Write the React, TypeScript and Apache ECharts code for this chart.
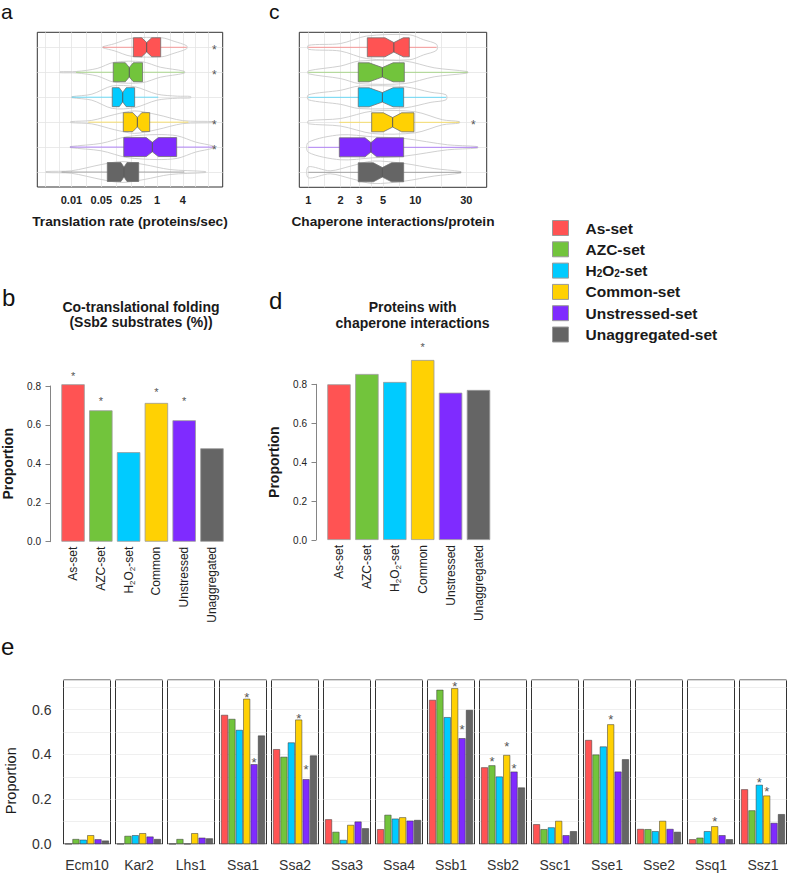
import React, { useEffect, useRef } from 'react';
import * as echarts from 'echarts';

const FONT = '"Liberation Sans", Arial, Helvetica, sans-serif';

const SETS = ['As-set', 'AZC-set', 'H2O2-set', 'Common-set', 'Unstressed-set', 'Unaggregated-set'];
const COLORS = ['#FF5353', '#72C43C', '#00CBFF', '#FFD103', '#7F2BFF', '#656565'];

// ---------- Panel a: translation rate (proteins/sec) ----------
const aTickValues = [0.01, 0.05, 0.25, 1, 4];
const aTickLabels = ['0.01', '0.05', '0.25', '1', '4'];
const aGridValues = [0.0024, 0.0051, 0.01, 0.0224, 0.05, 0.112, 0.25, 0.5, 1, 2, 4, 8, 16];
// [whiskerLow, q1, notchLow, median, notchHigh, q3, whiskerHigh]
const aBoxes = [
  [0.054, 0.28, 0.439, 0.574, 0.752, 1.22, 4.94],
  [0.0128, 0.095, 0.182, 0.225, 0.28, 0.46, 4.35],
  [0.0102, 0.09, 0.131, 0.158, 0.191, 0.3, 1.07],
  [0.0248, 0.163, 0.272, 0.347, 0.441, 0.675, 5.4],
  [0.0093, 0.167, 0.562, 0.777, 1.072, 2.88, 20.7],
  [0.0059, 0.069, 0.144, 0.169, 0.199, 0.373, 4.35],
];
// violin outline: [value, half width in row units]
const aViolins = [
  [[0.054, 0.02], [0.1, 0.14], [0.25, 0.36], [1.3, 0.38], [2.5, 0.24], [4.94, 0.06]],
  [[0.0054, 0.02], [0.013, 0.03], [0.04, 0.15], [0.1, 0.4], [0.45, 0.42], [1.2, 0.2], [4.35, 0.04]],
  [[0.0102, 0.02], [0.03, 0.12], [0.09, 0.45], [0.3, 0.42], [1, 0.12], [3, 0.04], [6.1, 0.03]],
  [[0.0096, 0.02], [0.03, 0.07], [0.1, 0.3], [0.3, 0.45], [1, 0.3], [4, 0.06], [22.6, 0.02]],
  [[0.0093, 0.02], [0.05, 0.15], [0.2, 0.42], [1, 0.5], [3, 0.45], [8, 0.2], [20.7, 0.04]],
  [[0.00255, 0.02], [0.01, 0.05], [0.05, 0.3], [0.15, 0.42], [0.5, 0.3], [2, 0.1], [13.7, 0.02]],
];
const aStarRows = [1, 2, 4, 5];
const aStarX = 21.8;

// ---------- Panel c: chaperone interactions/protein ----------
const cTickValues = [1, 2, 3, 5, 10, 30];
const cTickLabels = ['1', '2', '3', '5', '10', '30'];
const cGridValues = [1, 1.414, 2, 2.449, 3, 3.873, 5, 7.071, 10, 17.32, 30];
const cBoxes = [
  [1, 3.56, 5.21, 6.3, 7.72, 8.79, 15.8],
  [1, 2.93, 3.7, 4.92, 6.2, 7.89, 30.8],
  [1, 2.93, 3.7, 4.92, 6.2, 7.78, 19.4],
  [1.95, 3.91, 5.02, 6.14, 7.45, 9.72, 25.8],
  [1, 1.95, 3.39, 3.85, 4.35, 7.78, 38.2],
  [1, 2.93, 4.05, 4.92, 6.01, 7.78, 26.7],
];
const cViolins = [
  [[1, 0.08], [2, 0.15], [3.5, 0.45], [8.8, 0.5], [12, 0.3], [15.8, 0.12]],
  [[1, 0.06], [2, 0.25], [3, 0.45], [8, 0.45], [15, 0.18], [30.8, 0.03]],
  [[1, 0.1], [2, 0.28], [3, 0.45], [8, 0.42], [14, 0.2], [19.4, 0.1]],
  [[1, 0.06], [2, 0.15], [4, 0.45], [10, 0.42], [18, 0.1], [25.8, 0.03]],
  [[1, 0.2], [2, 0.5], [4, 0.42], [8, 0.35], [20, 0.1], [38.2, 0.03]],
  [[1, 0.22], [1.6, 0.06], [2.5, 0.25], [4, 0.45], [8, 0.35], [15, 0.15], [26.7, 0.03]],
];
const cStarRows = [4];
const cStarX = 34.8;

// ---------- Panels b and d ----------
const bdCategories = ['As-set', 'AZC-set', 'H2O2-set', 'Common', 'Unstressed', 'Unaggregated'];
const bValues = [0.809, 0.675, 0.46, 0.713, 0.624, 0.48];
const bStarY = [0.866, 0.734, null, 0.78, 0.734, null];
const dValues = [0.8, 0.853, 0.812, 0.925, 0.757, 0.771];
const dStarY = [null, null, null, 1.007, null, null];

// ---------- Panel e ----------
const eGenes = ['Ecm10', 'Kar2', 'Lhs1', 'Ssa1', 'Ssa2', 'Ssa3', 'Ssa4', 'Ssb1', 'Ssb2', 'Ssc1', 'Sse1', 'Sse2', 'Ssq1', 'Ssz1'];
const eAs = [0, 0, 0, 0.576, 0.423, 0.11, 0.066, 0.643, 0.342, 0.088, 0.464, 0.067, 0.021, 0.244];
const eAZC = [0.022, 0.036, 0.022, 0.558, 0.389, 0.054, 0.13, 0.688, 0.351, 0.066, 0.399, 0.066, 0.028, 0.15];
const eH2O2 = [0.019, 0.039, 0, 0.509, 0.453, 0.018, 0.113, 0.566, 0.301, 0.074, 0.435, 0.057, 0.057, 0.264];
const eCommon = [0.039, 0.048, 0.048, 0.648, 0.555, 0.085, 0.119, 0.695, 0.397, 0.103, 0.534, 0.103, 0.079, 0.216];
const eUnstressed = [0.021, 0.033, 0.028, 0.356, 0.289, 0.1, 0.104, 0.472, 0.323, 0.039, 0.323, 0.067, 0.039, 0.094];
const eUnaggregated = [0.015, 0.022, 0.025, 0.484, 0.395, 0.07, 0.107, 0.598, 0.252, 0.057, 0.378, 0.054, 0.021, 0.133];
// [gene index, set index, star height]
const eStars = [
  [3, 3, 0.668], [3, 4, 0.378],
  [4, 3, 0.575], [4, 4, 0.348],
  [7, 3, 0.715], [7, 4, 0.524],
  [8, 1, 0.383], [8, 3, 0.45], [8, 4, 0.35],
  [10, 3, 0.569],
  [12, 3, 0.112],
  [13, 2, 0.29], [13, 3, 0.249],
];

const E_BAR_W = 6.9;
const E_GAP = 0.07;
const L10 = Math.log10;

const subFmt = (s: string) => s.replace('H2O2', 'H{sub|2}O{sub|2}');

function boxRenderer(violins: number[][][]) {
  return (params: any, api: any) => {
    const i = params.dataIndex;
    const row = api.value(0);
    const wlo = api.value(1), q1 = api.value(2), nlo = api.value(3), med = api.value(4);
    const nhi = api.value(5), q3 = api.value(6), whi = api.value(7);
    const cy = api.coord([0, row])[1];
    const unit = Math.abs(api.coord([0, 2])[1] - api.coord([0, 1])[1]);
    const X = (x: number) => api.coord([x, row])[0];
    const hb = 0.38 * unit;
    const hn = hb * 0.5;
    const prof = violins[i];
    const top = prof.map(([x, w]) => [X(L10(x)), cy - w * unit]);
    const bot = prof.slice().reverse().map(([x, w]) => [X(L10(x)), cy + w * unit]);
    const col = COLORS[i];
    const box = [
      [X(q1), cy - hb], [X(nlo), cy - hb], [X(med), cy - hn], [X(nhi), cy - hb], [X(q3), cy - hb],
      [X(q3), cy + hb], [X(nhi), cy + hb], [X(med), cy + hn], [X(nlo), cy + hb], [X(q1), cy + hb],
    ];
    return {
      type: 'group',
      children: [
        { type: 'polygon', shape: { points: top.concat(bot), smooth: 0.3 }, style: { fill: 'none', stroke: '#CBCBCB', lineWidth: 0.9 } },
        { type: 'line', shape: { x1: X(wlo), y1: cy, x2: X(whi), y2: cy }, style: { stroke: col, lineWidth: 1, opacity: 0.55 } },
        { type: 'polygon', shape: { points: box }, style: { fill: col, stroke: '#707070', lineWidth: 0.8 } },
        { type: 'line', shape: { x1: X(med), y1: cy - hn, x2: X(med), y2: cy + hn }, style: { stroke: '#5A5A5A', lineWidth: 1 } },
      ],
    };
  };
}

function starText(x: number, y: number, size: number) {
  return {
    type: 'text', x, y: y + size * 0.23,
    style: { text: '*', fill: '#555', fontSize: size, fontFamily: FONT, align: 'center', verticalAlign: 'middle' },
  };
}

function simpleStarRenderer(size: number) {
  return (params: any, api: any) => {
    const p = api.coord([api.value(0), api.value(1)]);
    return starText(p[0], p[1], size);
  };
}

function logXAxis(gi: number, min: number, max: number, ticks: number[], labels: string[], gridVals: number[], name: string) {
  const logTicks = ticks.map(L10);
  return {
    gridIndex: gi, type: 'value', min, max,
    axisLine: { show: false },
    axisTick: { show: false, customValues: gridVals.map(L10) },
    splitLine: { show: true, lineStyle: { color: '#E4E4E4', width: 0.8 } },
    axisLabel: {
      customValues: logTicks,
      formatter: (v: number) => {
        const k = logTicks.findIndex((t) => Math.abs(t - v) < 1e-6);
        return k >= 0 ? labels[k] : '';
      },
      fontSize: 11, fontWeight: 'bold', color: '#222', margin: 7, fontFamily: FONT,
    },
    name, nameLocation: 'middle', nameGap: 27,
    nameTextStyle: { fontSize: 13.7, fontWeight: 'bold', color: '#1a1a1a', fontFamily: FONT },
  };
}

function rowYAxis(gi: number) {
  return {
    gridIndex: gi, type: 'value', min: 0.4, max: 6.6, inverse: true,
    axisLine: { show: false }, axisLabel: { show: false },
    axisTick: { show: false, customValues: [1, 2, 3, 4, 5, 6] },
    splitLine: { show: true, lineStyle: { color: '#E4E4E4', width: 0.8 } },
  };
}

function propYAxis(gi: number, offset: number) {
  return {
    gridIndex: gi, type: 'value', min: 0, max: 0.8, interval: 0.2, offset,
    axisLine: { show: true, lineStyle: { color: '#666', width: 0.8 } },
    axisTick: { show: true, length: 4.5, lineStyle: { color: '#666', width: 0.8 } },
    axisLabel: { fontSize: 10, color: '#222', margin: 9, formatter: (v: number) => v.toFixed(1), fontFamily: FONT },
    splitLine: { show: false },
    name: 'Proportion', nameLocation: 'middle', nameGap: 35,
    nameTextStyle: { fontSize: 14, fontWeight: 'bold', color: '#1a1a1a', fontFamily: FONT },
  };
}

function catXAxis(gi: number) {
  return {
    gridIndex: gi, type: 'category', data: bdCategories,
    axisLine: { show: false }, axisTick: { show: false },
    axisLabel: {
      rotate: 90, interval: 0, margin: 5, fontSize: 12, color: '#222', fontFamily: FONT, lineHeight: 16,
      formatter: subFmt,
      rich: { sub: { fontSize: 8, lineHeight: 8, verticalAlign: 'bottom', color: '#222', fontFamily: FONT } },
    },
  };
}

function buildOption() {
  const grids: any[] = [];
  const xAxes: any[] = [];
  const yAxes: any[] = [];
  const series: any[] = [];

  // a
  grids.push({ left: 37.3, top: 32.3, width: 185.4, height: 154.7, show: true, borderColor: '#333', borderWidth: 1 });
  xAxes.push(logXAxis(0, -2.797, 1.535, aTickValues, aTickLabels, aGridValues, 'Translation rate (proteins/sec)'));
  yAxes.push(rowYAxis(0));
  series.push({ type: 'custom', xAxisIndex: 0, yAxisIndex: 0, renderItem: boxRenderer(aViolins), data: aBoxes.map((b, i) => [i + 1, ...b.map(L10)]) });
  series.push({ type: 'custom', xAxisIndex: 0, yAxisIndex: 0, renderItem: simpleStarRenderer(12), data: aStarRows.map((r) => [L10(aStarX), r]) });

  // c
  grids.push({ left: 299.3, top: 32.3, width: 187.4, height: 155, show: true, borderColor: '#333', borderWidth: 1 });
  xAxes.push(logXAxis(1, -0.0841, 1.667, cTickValues, cTickLabels, cGridValues, 'Chaperone interactions/protein'));
  yAxes.push(rowYAxis(1));
  series.push({ type: 'custom', xAxisIndex: 1, yAxisIndex: 1, renderItem: boxRenderer(cViolins), data: cBoxes.map((b, i) => [i + 1, ...b.map(L10)]) });
  series.push({ type: 'custom', xAxisIndex: 1, yAxisIndex: 1, renderItem: simpleStarRenderer(12), data: cStarRows.map((r) => [L10(cStarX), r]) });

  // b
  grids.push({ left: 58.45, top: 386, width: 167.4, height: 155.7 });
  xAxes.push(catXAxis(2));
  yAxes.push(propYAxis(2, 9.15));
  series.push({
    type: 'bar', xAxisIndex: 2, yAxisIndex: 2, barWidth: 23.4, clip: false,
    itemStyle: { borderColor: '#9a9a9a', borderWidth: 0.8 },
    data: bValues.map((v, i) => ({ value: v, itemStyle: { color: COLORS[i] } })),
  });
  series.push({
    type: 'custom', xAxisIndex: 2, yAxisIndex: 2, renderItem: simpleStarRenderer(11),
    data: bStarY.map((y, i) => (y == null ? null : [i, y])).filter((d) => d),
  });

  // d
  grids.push({ left: 325.05, top: 384.3, width: 167.4, height: 155.7 });
  xAxes.push(catXAxis(3));
  yAxes.push(propYAxis(3, 9.05));
  series.push({
    type: 'bar', xAxisIndex: 3, yAxisIndex: 3, barWidth: 23.4, clip: false,
    itemStyle: { borderColor: '#9a9a9a', borderWidth: 0.8 },
    data: dValues.map((v, i) => ({ value: v, itemStyle: { color: COLORS[i] } })),
  });
  series.push({
    type: 'custom', xAxisIndex: 3, yAxisIndex: 3, renderItem: simpleStarRenderer(11),
    data: dStarY.map((y, i) => (y == null ? null : [i, y])).filter((d) => d),
  });

  // e
  const eData = [eAs, eAZC, eH2O2, eCommon, eUnstressed, eUnaggregated];
  const pitch = E_BAR_W * (1 + E_GAP);
  eGenes.forEach((g, i) => {
    const gi = 4 + i;
    grids.push({ left: 63.5 + 52 * i, top: 680, width: 47, height: 164, show: true, borderColor: '#333', borderWidth: 1 });
    xAxes.push({
      gridIndex: gi, type: 'category', data: [g],
      axisLine: { show: false }, axisTick: { show: false },
      axisLabel: { fontSize: 14, color: '#333', margin: 14, fontFamily: FONT, interval: 0 },
    });
    yAxes.push({
      gridIndex: gi, type: 'value', min: 0, max: 0.732, interval: 0.1,
      axisLine: { show: false }, axisTick: { show: false },
      axisLabel: {
        show: i === 0, fontSize: 14, color: '#333', margin: 12, fontFamily: FONT,
        formatter: (v: number) => {
          const t = Math.round(v * 10);
          return Math.abs(v * 10 - t) < 1e-6 && t % 2 === 0 ? v.toFixed(1) : '';
        },
      },
      splitLine: { show: true, lineStyle: { color: '#EBEBEB', width: 0.8 } },
    });
    eData.forEach((arr, s) => {
      series.push({
        type: 'bar', name: SETS[s], xAxisIndex: gi, yAxisIndex: gi,
        barWidth: E_BAR_W, barGap: `${E_GAP * 100}%`,
        itemStyle: { color: COLORS[s], borderColor: '#333', borderWidth: 0.5 },
        data: [arr[i]],
      });
    });
    const st = eStars.filter((d) => d[0] === i).map((d) => [0, d[2], d[1]]);
    if (st.length) {
      series.push({
        type: 'custom', xAxisIndex: gi, yAxisIndex: gi,
        renderItem: (params: any, api: any) => {
          const p = api.coord([0, api.value(1)]);
          const s = api.value(2);
          return starText(p[0] + (s - 2.5) * pitch, p[1], 13);
        },
        data: st,
      });
    }
  });

  const letter = (t: string, x: number, y: number, size: number) => ({
    type: 'text', x, y,
    style: { text: t, fill: '#111', fontSize: size, fontFamily: FONT, align: 'left', verticalAlign: 'middle' },
  });

  return {
    animation: false,
    backgroundColor: '#ffffff',
    textStyle: { fontFamily: FONT },
    legend: {
      orient: 'vertical', left: 552, top: 220, padding: 0,
      itemWidth: 16, itemHeight: 15, itemGap: 5.3, icon: 'rect', selectedMode: false,
      data: SETS,
      itemStyle: { borderColor: '#9a9a9a', borderWidth: 1 },
      formatter: subFmt,
      textStyle: {
        fontSize: 15.5, fontWeight: 'bold', color: '#1a1a1a', fontFamily: FONT, lineHeight: 15,
        padding: [0, 0, 0, 12],
        rich: { sub: { fontSize: 10, fontWeight: 'bold', lineHeight: 8, verticalAlign: 'bottom', color: '#1a1a1a', fontFamily: FONT } },
      },
    },
    grid: grids,
    xAxis: xAxes,
    yAxis: yAxes,
    series,
    graphic: {
      elements: [
        letter('a', 1, 11, 21),
        letter('c', 269, 11, 21),
        letter('b', 2, 297.7, 24),
        letter('d', 269, 300, 24),
        letter('e', 1, 646.7, 24),
        {
          type: 'text', x: 141, y: 314.2,
          style: { text: 'Co-translational folding\n(Ssb2 substrates (%))', fill: '#1a1a1a', fontSize: 14, fontWeight: 'bold', fontFamily: FONT, align: 'center', verticalAlign: 'middle', lineHeight: 15 },
        },
        {
          type: 'text', x: 412.6, y: 315,
          style: { text: 'Proteins with\nchaperone interactions', fill: '#1a1a1a', fontSize: 14, fontWeight: 'bold', fontFamily: FONT, align: 'center', verticalAlign: 'middle', lineHeight: 15.4 },
        },
        {
          type: 'text', x: 10.7, y: 780.7, rotation: Math.PI / 2,
          style: { text: 'Proportion', fill: '#1a1a1a', fontSize: 14.5, fontFamily: FONT, align: 'center', verticalAlign: 'middle' },
        },
      ],
    },
  };
}

export default function App() {
  const ref = useRef<HTMLDivElement>(null);
  useEffect(() => {
    const chart = echarts.init(ref.current as HTMLDivElement, null, { renderer: 'svg' });
    chart.setOption(buildOption() as any);
    return () => chart.dispose();
  }, []);
  return (
    <div
      ref={ref}
      style={{ position: 'absolute', left: 0, top: 0, width: 787, height: 873, background: '#fff' }}
    />
  );
}
